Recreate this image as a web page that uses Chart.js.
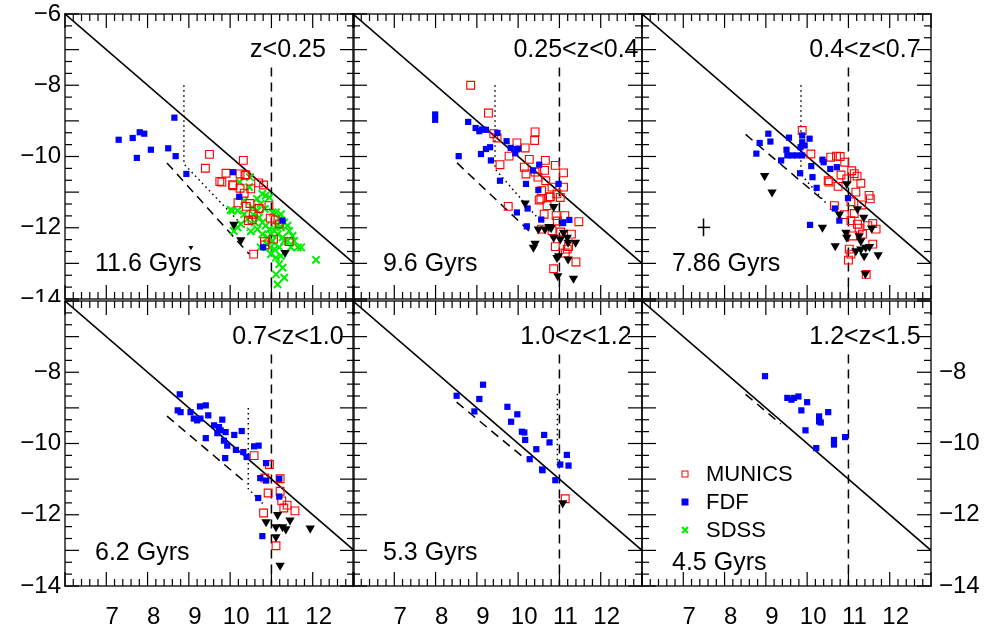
<!DOCTYPE html>
<html>
<head>
<meta charset="utf-8">
<script src="https://cdn.jsdelivr.net/npm/chart.js@4.4.0/dist/chart.umd.min.js"></script>
<style>
  body { margin: 0; background: #fff; }
  #wrap { position: relative; width: 987px; height: 627px; overflow: hidden; }
  #wrap canvas { position: absolute; }
</style>
</head>
<body>
<div id="wrap"></div>
<script>
// ---- data ----
const zLabels = ['z<0.25', '0.25<z<0.4', '0.4<z<0.7', '0.7<z<1.0', '1.0<z<1.2', '1.2<z<1.5'];
const ageLabels = ['11.6 Gyrs', '9.6 Gyrs', '7.86 Gyrs', '6.2 Gyrs', '5.3 Gyrs', '4.5 Gyrs'];
const xTickLabels = [7, 8, 9, 10, 11, 12];
const yTickLabels = [-6, -8, -10, -12, -14];

const fdf1 = [[7.30,-9.53],[7.64,-9.48],[7.81,-9.32],[7.92,-9.36],[7.74,-10.04],[8.08,-9.81],[8.50,-9.77],[8.65,-8.91],[8.68,-9.99],[8.94,-10.49],[10.07,-10.44],[10.22,-11.13],[11.27,-11.80],[10.80,-12.55]];
const munics1 = [[9.50,-9.94],[9.40,-10.33],[10.32,-10.11],[9.90,-10.47],[9.75,-10.70],[9.80,-10.72],[10.24,-10.49],[10.36,-10.53],[10.06,-10.79],[10.24,-10.89],[10.50,-10.91],[10.69,-10.74],[10.81,-10.80],[10.34,-11.03],[10.19,-11.30],[10.48,-11.32],[10.39,-11.40],[10.70,-11.46],[10.94,-11.38],[10.56,-11.62],[10.53,-11.78],[10.44,-11.80],[10.97,-11.73],[11.09,-11.78],[11.19,-11.89],[11.05,-12.32],[10.83,-12.39],[10.84,-12.48],[11.43,-12.39],[10.57,-12.74],[10.07,-10.82],[10.38,-10.51]];
const sdss1 = [[10.48,-10.58],[10.46,-10.86],[10.78,-11.05],[10.86,-11.10],[10.95,-11.15],[10.65,-11.19],[10.05,-11.52],[10.18,-11.52],[10.34,-11.62],[10.42,-11.76],[10.56,-11.63],[10.70,-11.71],[10.78,-11.85],[10.86,-11.94],[11.03,-11.57],[11.11,-11.57],[11.23,-11.62],[11.31,-11.85],[11.39,-11.94],[11.13,-11.94],[11.07,-12.09],[10.99,-12.18],[11.15,-12.18],[11.27,-12.27],[11.39,-12.37],[11.51,-12.23],[11.55,-12.37],[11.64,-12.55],[11.47,-12.55],[11.19,-12.55],[11.07,-12.60],[10.99,-12.74],[11.11,-12.84],[11.23,-12.79],[11.19,-13.02],[11.27,-13.12],[11.11,-13.31],[11.31,-13.40],[11.15,-13.59],[12.08,-12.90],[10.18,-11.99],[10.09,-12.09],[10.26,-11.90],[10.66,-12.04],[10.78,-12.18],[10.91,-12.27],[11.03,-12.37],[10.97,-12.55],[10.89,-12.46],[10.34,-11.24],[10.54,-11.43],[10.74,-11.33],[10.84,-11.47],[10.66,-11.52],[11.19,-11.76],[10.95,-12.04],[11.23,-11.99],[11.43,-12.09],[11.31,-12.37],[11.72,-12.55],[10.74,-12.55],[10.23,-10.72],[10.01,-11.50],[10.60,-11.85],[10.50,-12.10]];
const lim1 = [[10.09,-11.91],[10.26,-12.34],[11.33,-12.70]];
const limSmall1 = [[9.05,-12.55]];

const fdf2 = [[7.99,-8.82],[7.99,-8.97],[8.79,-9.03],[8.97,-9.20],[9.06,-9.29],[9.13,-9.24],[9.22,-9.25],[9.50,-9.34],[9.72,-9.57],[9.82,-9.76],[9.97,-9.80],[9.93,-9.91],[9.22,-9.79],[9.32,-9.74],[9.10,-9.93],[8.56,-9.99],[9.34,-10.11],[9.56,-10.68],[10.36,-10.39],[10.51,-10.23],[10.19,-10.77],[10.49,-10.94],[10.98,-10.77],[9.97,-11.57],[10.23,-11.46],[10.56,-11.77],[10.21,-11.96],[11.09,-11.87],[11.24,-11.78],[10.00,-9.78]];
const munics2 = [[8.85,-8.00],[9.28,-8.78],[9.41,-9.36],[10.41,-9.31],[10.40,-9.55],[9.97,-9.62],[10.17,-9.76],[9.78,-9.99],[10.27,-10.08],[10.66,-10.11],[9.56,-10.23],[10.15,-10.30],[10.19,-10.49],[10.64,-10.39],[10.90,-10.25],[11.10,-10.46],[10.48,-10.58],[10.67,-10.68],[10.82,-10.86],[10.57,-10.96],[10.78,-11.13],[10.51,-11.22],[10.70,-11.38],[11.10,-10.86],[10.94,-11.05],[11.02,-11.15],[9.76,-11.40],[10.92,-11.66],[11.13,-11.66],[11.47,-11.83],[11.29,-12.18],[10.82,-12.08],[10.57,-12.04],[10.90,-12.53],[11.22,-12.53],[11.14,-12.71],[11.40,-12.96],[10.86,-13.15],[10.41,-10.44],[9.49,-9.48],[10.55,-11.19],[10.75,-11.14],[10.63,-11.62],[10.95,-11.81],[11.03,-12.12],[11.19,-12.60]];
const lim2 = [[10.17,-11.31],[10.86,-11.41],[10.49,-12.04],[10.75,-11.97],[10.86,-12.27],[11.02,-12.32],[11.19,-12.27],[11.21,-12.41],[11.39,-12.41],[11.10,-12.13],[10.41,-12.44],[10.37,-12.55],[10.94,-12.84],[10.98,-12.79],[11.21,-12.88],[10.96,-13.35],[11.34,-13.42],[10.65,-12.04],[10.80,-12.00]];

const fdf3 = [[9.06,-9.36],[8.85,-9.62],[8.77,-9.92],[9.11,-9.58],[9.56,-9.47],[9.88,-9.41],[9.88,-9.60],[9.84,-9.74],[10.06,-9.50],[9.94,-9.69],[9.50,-9.81],[9.52,-9.97],[9.64,-9.97],[9.76,-9.97],[9.88,-9.97],[9.37,-10.11],[10.10,-10.27],[9.83,-10.47],[10.13,-10.58],[10.37,-10.09],[10.40,-10.16],[10.56,-10.35],[10.72,-10.30],[10.23,-10.88],[10.99,-11.17],[10.67,-11.46],[10.78,-11.80],[10.07,-11.92]];
const munics3 = [[9.88,-9.27],[10.09,-9.93],[10.57,-10.02],[10.80,-10.00],[10.91,-10.16],[10.82,-10.52],[10.51,-10.68],[10.53,-10.72],[10.75,-10.84],[11.08,-10.40],[11.21,-10.55],[11.30,-10.75],[10.96,-10.63],[11.18,-11.00],[11.06,-11.27],[11.53,-11.19],[11.32,-11.36],[10.66,-11.38],[10.90,-11.63],[11.14,-11.60],[11.06,-11.80],[11.22,-11.90],[11.26,-12.01],[11.47,-11.94],[11.59,-11.88],[11.67,-12.04],[11.10,-12.23],[11.34,-12.18],[11.59,-12.46],[11.02,-12.60],[11.06,-12.74],[11.00,-12.91],[11.43,-13.31],[10.71,-9.99],[11.14,-10.48],[11.50,-11.09]];
const lim3 = [[8.97,-10.54],[9.15,-11.00],[10.37,-11.99],[10.68,-12.51],[10.96,-10.77],[10.78,-11.62],[11.22,-11.47],[11.37,-11.71],[10.94,-12.13],[10.96,-12.27],[11.26,-12.23],[11.30,-12.37],[11.56,-12.01],[11.18,-12.65],[11.30,-12.60],[11.42,-12.55],[11.51,-12.53],[11.38,-12.79],[11.72,-12.76],[11.41,-13.29]];
const errX3 = [[7.35,-11.99],[7.65,-11.99]];
const errY3 = [[7.49,-11.74],[7.49,-12.24]];

const fdf4 = [[8.78,-8.62],[8.73,-9.07],[8.80,-9.12],[9.04,-9.12],[9.27,-8.96],[9.41,-8.93],[9.47,-9.21],[9.12,-9.30],[9.20,-9.35],[9.28,-9.30],[9.61,-9.49],[9.73,-9.54],[9.81,-9.33],[9.77,-9.63],[9.69,-9.71],[9.89,-9.68],[9.41,-9.85],[9.85,-9.92],[9.93,-10.06],[10.10,-9.76],[10.28,-9.65],[10.14,-10.18],[10.32,-10.24],[9.88,-10.41],[10.40,-10.38],[10.58,-10.08],[10.69,-10.06],[10.87,-10.55],[10.73,-10.97],[10.87,-11.04],[10.68,-11.53],[11.19,-10.99],[11.19,-11.49],[10.78,-12.60]];
const munics4 = [[10.58,-10.34],[10.95,-10.59],[10.84,-10.97],[11.21,-10.99],[10.92,-11.39],[11.21,-11.34],[11.25,-11.61],[11.38,-11.73],[11.30,-11.81],[11.57,-11.89],[10.81,-11.95],[11.11,-12.87]];
const lim4 = [[10.87,-12.20],[11.15,-12.00],[11.11,-12.34],[11.27,-12.34],[11.35,-12.40],[11.45,-12.15],[11.11,-12.62],[11.94,-12.38],[11.21,-13.42]];

const fdf5 = [[8.51,-8.66],[8.94,-9.10],[9.06,-8.75],[9.15,-8.35],[9.74,-8.97],[9.98,-9.18],[9.83,-9.39],[10.09,-9.67],[10.15,-9.69],[10.17,-9.90],[10.63,-9.76],[10.76,-9.97],[10.44,-10.16],[10.28,-10.44],[10.58,-10.73],[10.59,-10.75],[10.90,-11.03],[11.02,-10.59],[11.18,-10.32],[11.22,-10.62]];
const munics5 = [[11.14,-11.55]];
const lim5 = [[11.08,-11.67]];

const fdf6 = [[8.98,-8.11],[9.52,-8.72],[9.62,-8.77],[9.68,-8.72],[9.79,-8.68],[10.00,-8.84],[9.86,-9.07],[10.29,-9.24],[10.29,-9.38],[10.33,-9.41],[10.51,-9.12],[9.96,-9.63],[10.22,-10.13],[10.65,-9.90],[10.65,-10.03],[10.92,-9.82]];

// reference lines
const unityLine = [[6,-6],[13,-13]];
const cutLine = [[11,-7.5],[11,-14]];
const dashedLines = [
  [[8.47,-10.18],[10.46,-12.74]],
  [[8.52,-10.18],[10.35,-12.18]],
  [[8.51,-9.38],[10.45,-11.29]],
  [[8.47,-9.23],[10.42,-11.14]],
  [[8.51,-8.84],[10.13,-10.39]],
  [[8.51,-8.62],[9.36,-9.45]]
];
const dottedLines = [
  [[8.88,-8.0],[8.88,-10.21],[10.42,-12.08]],
  [[9.44,-8.0],[9.44,-10.35],[10.53,-11.80]],
  [[9.85,-8.0],[9.85,-10.50],[10.45,-11.30]],
  [[10.44,-9.0],[10.44,-11.27],[10.80,-11.70]],
  [[10.95,-8.6],[10.95,-10.63]],
  []
];

const panels = [
  { fdf: fdf1, munics: munics1, sdss: sdss1, lim: lim1, limSmall: limSmall1 },
  { fdf: fdf2, munics: munics2, lim: lim2 },
  { fdf: fdf3, munics: munics3, lim: lim3, errX: errX3, errY: errY3 },
  { fdf: fdf4, munics: munics4, lim: lim4 },
  { fdf: fdf5, munics: munics5, lim: lim5 },
  { fdf: fdf6, legend: true }
];

// ---- layout ----
const FONT = '"Liberation Sans", Arial, Helvetica, sans-serif';
const colLeft = [65, 353, 642];
const rowTop = [14, 301];
const panelW = 289, panelH = 285;
const ageOffset = [250, 250, 250, 252, 252, 262];

const RED = '#ff0000', BLUE = '#0000ff', GREEN = '#00ee00';

function pts(a) { return a.map(p => ({ x: p[0], y: p[1] })); }
function minus(v) { return v < 0 ? '\u2212' + Math.abs(v) : String(v); }

function lineSet(a, dash, w) {
  return { data: pts(a), showLine: true, borderColor: '#000', borderWidth: w || 1.5,
    borderDash: dash || [], pointRadius: 0, fill: false, order: 5 };
}

// fix an axis' size and drop its label overhang so the plot area lands where we want it
function fixSize(prop, size) {
  return s => {
    s[prop] = size;
    s.paddingLeft = 0; s.paddingRight = 0; s.paddingTop = 0; s.paddingBottom = 0;
  };
}

const styles = {
  munics: { pointStyle: 'rect', pointRadius: 5.5, borderColor: RED, backgroundColor: 'rgba(0,0,0,0)', borderWidth: 1.1, order: 3 },
  fdf: { pointStyle: 'rect', pointRadius: 4.4, borderColor: BLUE, backgroundColor: BLUE, borderWidth: 0, order: 2 },
  sdss: { pointStyle: 'crossRot', pointRadius: 5.2, borderColor: GREEN, backgroundColor: GREEN, borderWidth: 2, order: 4 },
  lim: { pointStyle: 'triangle', rotation: 180, pointRadius: 5.4, borderColor: '#000', backgroundColor: '#000', borderWidth: 0, order: 1 },
  limSmall: { pointStyle: 'triangle', rotation: 180, pointRadius: 2.8, borderColor: '#000', backgroundColor: '#000', borderWidth: 0, order: 1 }
};

function makePanelPlugin(idx, p) {
  return {
    id: 'panel' + idx,
    afterDatasetsDraw(chart) {
      const ctx = chart.ctx, a = chart.chartArea, xs = chart.scales.x, ys = chart.scales.y;
      ctx.save();
      ctx.setLineDash([]);
      ctx.fillStyle = '#000';
      const t = 1.3;
      ctx.fillRect(a.left - t / 2, a.top - t / 2, a.right - a.left + t, t);
      ctx.fillRect(a.left - t / 2, a.bottom - t / 2, a.right - a.left + t, t);
      ctx.fillRect(a.left - t / 2, a.top - t / 2, t, a.bottom - a.top + t);
      ctx.fillRect(a.right - t / 2, a.top - t / 2, t, a.bottom - a.top + t);
      // inward ticks: major every 1, minor every 0.2 on x and every 1/3 on y
      for (let i = 0; i <= 35; i++) {
        const px = xs.getPixelForValue(6 + i / 5);
        const len = i % 5 === 0 ? 14 : 7;
        ctx.fillRect(px - 0.6, a.bottom - len, 1.2, len);
        ctx.fillRect(px - 0.6, a.top, 1.2, len);
      }
      for (let j = 0; j <= 24; j++) {
        const py = ys.getPixelForValue(-14 + j / 3);
        const len = j % 3 === 0 ? 14 : 7;
        ctx.fillRect(a.left, py - 0.6, len, 1.2);
        ctx.fillRect(a.right - len, py - 0.6, len, 1.2);
      }
      ctx.restore();
    },
    afterDraw(chart) {
      const ctx = chart.ctx, a = chart.chartArea, xs = chart.scales.x;
      ctx.save();
      ctx.fillStyle = '#000';
      ctx.font = '25px ' + FONT;
      ctx.textBaseline = 'middle';
      ctx.textAlign = 'center';
      ctx.fillText(zLabels[idx], xs.getPixelForValue(11.4), a.top + 36);
      ctx.textAlign = 'left';
      ctx.fillText(ageLabels[idx], a.left + 30, a.top + ageOffset[idx]);
      if (p.legend) {
        ctx.font = '22px ' + FONT;
        const items = [['MUNICS', 'munics'], ['FDF', 'fdf'], ['SDSS', 'sdss']];
        items.forEach((it, k) => {
          const mx = a.left + 43, my = a.top + 173 + k * 28;
          const s = styles[it[1]];
          ctx.save();
          ctx.lineWidth = it[1] === 'sdss' ? 2 : 1;
          ctx.strokeStyle = s.borderColor;
          ctx.fillStyle = s.backgroundColor;
          if (it[1] === 'munics') ctx.strokeRect(mx - 3, my - 3, 6, 6);
          else if (it[1] === 'fdf') ctx.fillRect(mx - 3.5, my - 3.5, 7, 7);
          else { ctx.beginPath(); ctx.moveTo(mx - 3, my - 3); ctx.lineTo(mx + 3, my + 3); ctx.moveTo(mx + 3, my - 3); ctx.lineTo(mx - 3, my + 3); ctx.stroke(); }
          ctx.restore();
          ctx.fillStyle = '#000';
          ctx.fillText(it[0], mx + 21, my + 1);
        });
      }
      ctx.restore();
    }
  };
}

const wrap = document.getElementById('wrap');

panels.forEach((p, idx) => {
  const col = idx % 3, row = Math.floor(idx / 3);
  const L = colLeft[col], T = rowTop[row];
  const hasRight = (idx === 5);
  // each canvas covers its own panel plus the room for its labels
  const yW = col === 0 ? 60 : 0;
  const y2W = hasRight ? 55 : 0;
  const xH = row === 1 ? 40 : 0;
  const mL = col === 0 ? L : 3;
  const mR = hasRight ? 987 - (L + panelW) : 3;
  const mT = row === 0 ? T : 3;
  const mB = row === 1 ? 627 - (T + panelH) : 3;
  const cv = document.createElement('canvas');
  cv.width = panelW + mL + mR;
  cv.height = panelH + mT + mB;
  cv.style.left = (L - mL) + 'px';
  cv.style.top = (T - mT) + 'px';
  wrap.appendChild(cv);

  const datasets = [];
  ['lim', 'limSmall', 'fdf', 'munics', 'sdss'].forEach(k => {
    if (p[k]) datasets.push(Object.assign({ label: k, data: pts(p[k]) }, styles[k]));
  });
  datasets.push(lineSet(unityLine, [], 1.6));
  datasets.push(lineSet(cutLine, [9, 6], 1.5));
  datasets.push(lineSet(dashedLines[idx], [9, 6], 1.5));
  if (dottedLines[idx].length) datasets.push(lineSet(dottedLines[idx], [1.5, 3.5], 1.5));
  if (p.errX) { datasets.push(lineSet(p.errX, [], 1.5)); datasets.push(lineSet(p.errY, [], 1.5)); }

  const yTickCb = v => (yTickLabels.includes(v) && !(row === 1 && v === -6)) ? minus(v) : '';
  const yFont = { size: 24, family: FONT, lineHeight: 0.1 };
  const scales = {
    x: {
      type: 'linear', min: 6, max: 13,
      afterFit: fixSize('height', xH),
      grid: { display: false, drawTicks: false }, border: { display: false },
      ticks: { display: row === 1, stepSize: 1, autoSkip: false, maxRotation: 0, padding: 17, labelOffset: 6,
        color: '#000', font: { size: 24, family: FONT },
        callback: v => xTickLabels.includes(v) ? String(v) : '' }
    },
    y: {
      type: 'linear', min: -14, max: -6,
      afterFit: fixSize('width', yW),
      grid: { display: false, drawTicks: false }, border: { display: false },
      ticks: { display: col === 0, stepSize: 2, autoSkip: false, padding: 4,
        color: '#000', font: yFont, callback: yTickCb }
    }
  };
  if (hasRight) {
    scales.y2 = {
      type: 'linear', position: 'right', min: -14, max: -6,
      afterFit: fixSize('width', y2W),
      grid: { display: false, drawTicks: false }, border: { display: false },
      ticks: { stepSize: 2, autoSkip: false, padding: 8,
        color: '#000', font: yFont, callback: yTickCb }
    };
  }

  new Chart(cv, {
    type: 'scatter',
    data: { datasets },
    options: {
      responsive: false,
      animation: false,
      events: [],
      devicePixelRatio: 1,
      layout: { autoPadding: false, padding: { left: mL - yW, top: mT, right: mR - y2W, bottom: mB - xH } },
      plugins: { legend: { display: false }, tooltip: { enabled: false } },
      scales
    },
    plugins: [makePanelPlugin(idx, p)]
  });
});
</script>
</body>
</html>
